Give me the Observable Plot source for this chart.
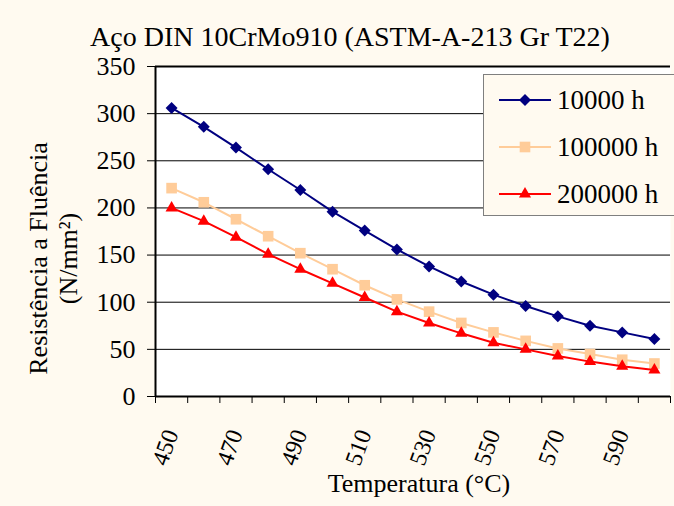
<!DOCTYPE html>
<html>
<head>
<meta charset="utf-8">
<script src="https://cdn.jsdelivr.net/npm/d3@7"></script>
<script src="https://cdn.jsdelivr.net/npm/@observablehq/plot@0.6"></script>
<style>
  body { margin: 0; background: #fffaf0; }
  #chart { position: relative; width: 674px; height: 506px; overflow: hidden; background: #fffaf0; font-family: "Liberation Serif", serif; color: #000; }
  #chart svg text { font-family: "Liberation Serif", serif; }
  .title { position: absolute; left: 0; width: 700px; top: 23px; text-align: center; font-size: 28px; line-height: 28px; white-space: nowrap; }
  .xtitle { position: absolute; left: 119px; width: 600px; top: 471px; text-align: center; font-size: 26px; line-height: 26px; white-space: nowrap; }
  .legend { position: absolute; left: 483px; top: 74px; width: 220px; height: 140px; border: 1px solid #7f7f7f; background: #fffaf0; }
  .legend svg { position: absolute; left: 0; top: 0; }
</style>
</head>
<body>
<div id="chart"></div>
<script>
const temps = [450, 460, 470, 480, 490, 500, 510, 520, 530, 540, 550, 560, 570, 580, 590, 600];
const s10000 = [306, 286, 264, 241, 219, 196, 176, 156, 138, 122, 108, 96, 85, 75, 68, 61];
const s100000 = [221, 206, 188, 170, 152, 135, 118, 103, 90, 78, 68, 59, 51, 45, 39, 35];
const s200000 = [200, 186, 169, 151, 135, 120, 105, 90, 78, 67, 57, 50, 43, 37, 32, 28];
const seriesNames = ["10000 h", "100000 h", "200000 h"];
const seriesValues = [s10000, s100000, s200000];
const seriesColors = ["#000080", "#ffcc99", "#ff0000"];
const seriesSymbols = ["diamond2", "square", "triangle"];
const seriesR = [5.4, 6.0, 4.5];
const yTicks = [0, 50, 100, 150, 200, 250, 300, 350];
const gridTicks = [50, 100, 150, 200, 250, 300];
const xLabels = [450, 470, 490, 510, 530, 550, 570, 590];
const xBounds = [445, 455, 465, 475, 485, 495, 505, 515, 525, 535, 545, 555, 565, 575, 585, 595, 605];
const titleText = "Aço DIN 10CrMo910 (ASTM-A-213 Gr T22)";
const xTitle = "Temperatura (°C)";
const yTitle = "Resistência a Fluência\n(N/mm²)";

const FONT = '"Liberation Serif", serif';

const seriesMarks = [];
seriesNames.forEach((name, i) => {
  const rows = temps.map((t, j) => ({temp: t, value: seriesValues[i][j], series: name}));
  seriesMarks.push(Plot.line(rows, {x: "temp", y: "value", stroke: seriesColors[i], strokeWidth: 2}));
  seriesMarks.push(Plot.dot(rows, {x: "temp", y: "value", fill: seriesColors[i], stroke: "none", symbol: seriesSymbols[i], r: seriesR[i]}));
});

const plot = Plot.plot({
  width: 674,
  height: 506,
  marginLeft: 155,
  marginRight: 4,
  marginTop: 66,
  marginBottom: 110,
  style: {background: "transparent", fontFamily: FONT, color: "#000"},
  x: {domain: [xBounds[0], xBounds[xBounds.length - 1]]},
  y: {domain: [0, 350]},
  marks: [
    Plot.frame({fill: "white", stroke: "none"}),
    Plot.ruleY(gridTicks, {stroke: "#000", strokeWidth: 1}),
    Plot.axisY({ticks: yTicks, tickSize: 8, tickPadding: 12, fontSize: 26, label: null, stroke: "#000", strokeWidth: 1}),
    Plot.axisX({ticks: xBounds, tickSize: 7, tickFormat: () => "", label: null, stroke: "#000"}),
    Plot.axisX({ticks: xLabels, tickSize: 0, tickPadding: 34, tickRotate: -70, fontSize: 24, label: null, tickFormat: d => String(d)}),
    Plot.ruleY([350], {stroke: "#000", strokeWidth: 2}),
    Plot.ruleY([0], {stroke: "#000", strokeWidth: 2}),
    Plot.ruleX([xBounds[0]], {stroke: "#000", strokeWidth: 2}),
    ...seriesMarks,
    Plot.text([yTitle], {text: d => d, frameAnchor: "left", textAnchor: "middle", dx: -103, dy: 27, rotate: -90, fontSize: 26, lineHeight: 1.17, fill: "#000"})
  ]
});

const chart = document.getElementById("chart");
chart.appendChild(plot);
plot.style.position = "absolute";
plot.style.left = "0";
plot.style.top = "0";

const t = document.createElement("div");
t.className = "title";
t.textContent = titleText;
chart.appendChild(t);

const xt = document.createElement("div");
xt.className = "xtitle";
xt.textContent = xTitle;
chart.appendChild(xt);

// legend
const leg = document.createElement("div");
leg.className = "legend";
chart.appendChild(leg);
const lsvg = d3.select(leg).append("svg").attr("width", 220).attr("height", 140);
const symMap = {diamond2: d3.symbolDiamond2, square: d3.symbolSquare, triangle: d3.symbolTriangle};
seriesNames.forEach((name, i) => {
  const cy = 25 + i * 47;
  const g = lsvg.append("g").attr("transform", `translate(0,${cy})`);
  g.append("line").attr("x1", 15).attr("x2", 67).attr("y1", 0).attr("y2", 0)
    .attr("stroke", seriesColors[i]).attr("stroke-width", 2);
  g.append("path").attr("transform", "translate(41,0)")
    .attr("d", d3.symbol(symMap[seriesSymbols[i]], Math.PI * seriesR[i] * seriesR[i])())
    .attr("fill", seriesColors[i]);
  g.append("text").attr("x", 73).attr("y", 0).attr("dy", "0.35em")
    .attr("font-size", 27).attr("font-family", FONT)
    .attr("fill", "#000").text(name);
});
</script>
</body>
</html>
